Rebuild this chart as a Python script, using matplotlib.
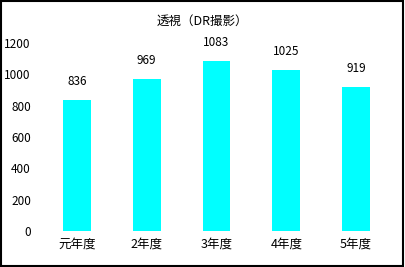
import matplotlib
matplotlib.use("Agg")
import matplotlib.pyplot as plt
from matplotlib.patches import Rectangle

plt.rcParams['font.family'] = ['Noto Sans CJK JP', 'DejaVu Sans']

title = "透視（DR撮影）"
categories = ["元年度", "2年度", "3年度", "4年度", "5年度"]
values = [836, 969, 1083, 1025, 919]
yticks = [0, 200, 400, 600, 800, 1000, 1200]

fig = plt.figure(figsize=(4.05, 2.67), dpi=100)
ax = fig.add_axes([42/405, 36/267, 349/405, 188/267])

x = list(range(len(categories)))
ax.bar(x, values, width=0.4, color="#00FFFF")
for xi, v in zip(x, values):
    ax.annotate(str(v), (xi, v), xytext=(0, 9), textcoords="offset points",
                ha="center", va="bottom", fontsize=8.5, color="black")

ax.set_xlim(-0.5, len(categories) - 0.5)
ax.set_ylim(0, 1200)
ax.set_yticks(yticks)
ax.set_yticklabels([str(t) for t in yticks], fontsize=8.5)
ax.set_xticks(x)
ax.set_xticklabels(categories, fontsize=9)
ax.tick_params(axis='y', length=0, pad=8)
ax.tick_params(axis='x', length=0, pad=5)
for s in ax.spines.values():
    s.set_visible(False)

fig.text(202/405, 1 - 21/267, title, ha="center", va="center", fontsize=9)
fig.patches.append(Rectangle((0.002, 0.005), 0.993, 0.992, transform=fig.transFigure,
                             fill=False, edgecolor="black", linewidth=1.5))

fig.savefig("out.png", dpi=100)
